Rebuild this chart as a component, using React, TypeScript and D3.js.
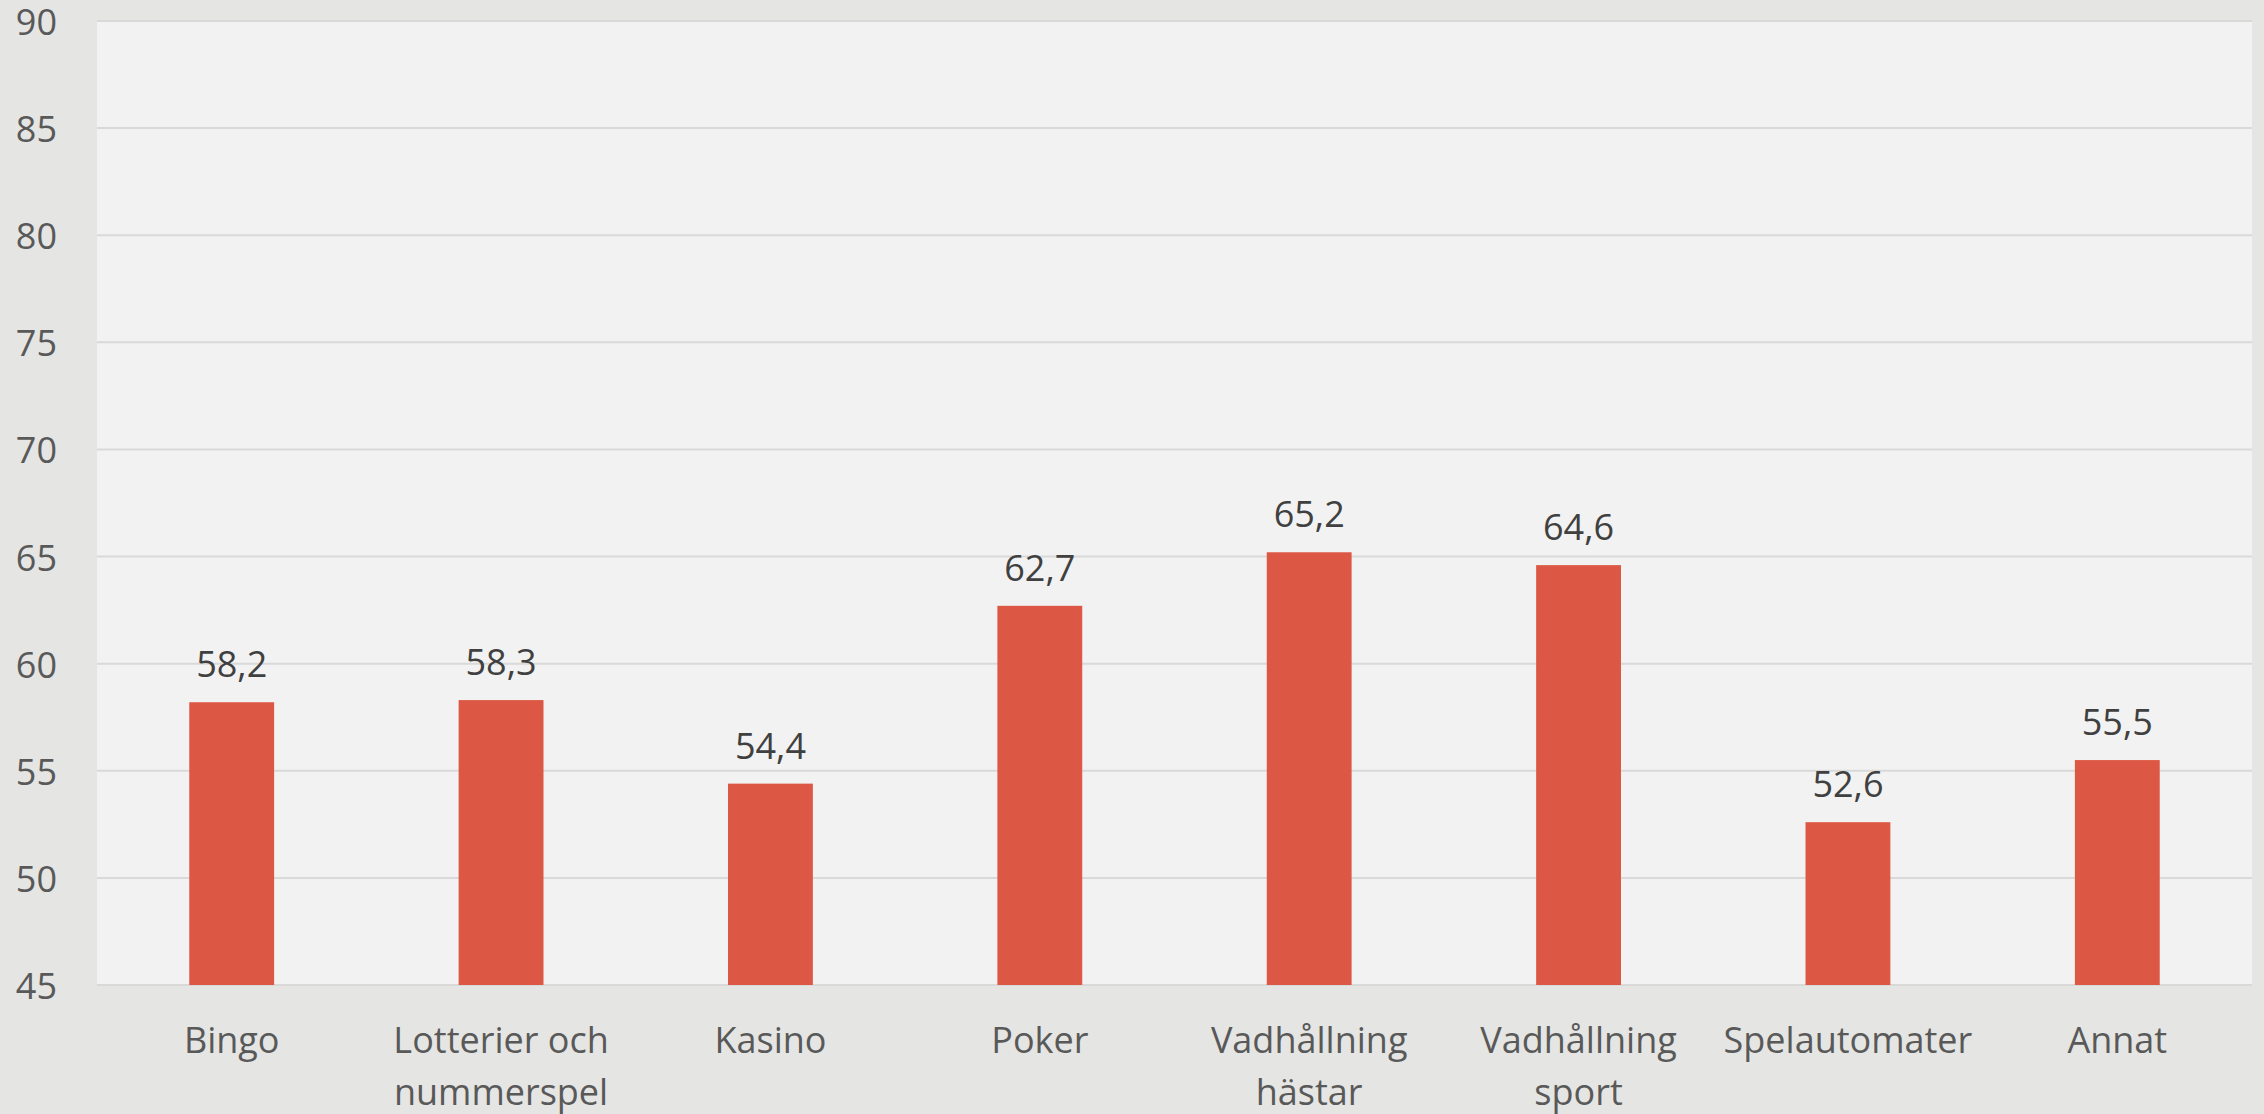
import React from "react";
import * as d3 from "d3";

const categories: string[][] = [
  ["Bingo"],
  ["Lotterier och", "nummerspel"],
  ["Kasino"],
  ["Poker"],
  ["Vadhållning", "hästar"],
  ["Vadhållning", "sport"],
  ["Spelautomater"],
  ["Annat"],
];
const values: number[] = [58.2, 58.3, 54.4, 62.7, 65.2, 64.6, 52.6, 55.5];
const yTicks: number[] = [45, 50, 55, 60, 65, 70, 75, 80, 85, 90];

const W = 2264;
const H = 1114;
const left = 97;
const right = 2252;
const top = 21;
const bottom = 985;
const font = "'Open Sans', sans-serif";

export default function App() {
  const x = d3
    .scaleBand<number>()
    .domain(values.map((_, i) => i))
    .range([left, right])
    .paddingInner(0.685)
    .paddingOuter(0.3425);
  const y = d3.scaleLinear().domain([45, 90]).range([bottom, top]);
  const fmt = (v: number) => d3.format(".1f")(v).replace(".", ",");

  return (
    <svg
      width={W}
      height={H}
      style={{ position: "absolute", left: 0, top: 0, display: "block" }}
      fontFamily={font}
    >
      <rect x={0} y={0} width={W} height={H} fill="#e5e5e3" />
      <rect x={left} y={top} width={right - left} height={bottom - top} fill="#f2f2f2" />
      {yTicks.map((t) => (
        <g key={t}>
          <line
            x1={left}
            x2={right}
            y1={y(t)}
            y2={y(t)}
            stroke="#d9d9d9"
            strokeWidth={2}
          />
          <text
            x={57}
            y={y(t) + 14}
            textAnchor="end"
            fontSize={36}
            fill="#595959"
          >
            {t}
          </text>
        </g>
      ))}
      {values.map((v, i) => {
        const bx = x(i) as number;
        const bw = x.bandwidth();
        const cx = bx + bw / 2;
        return (
          <g key={i}>
            <rect x={bx} y={y(v)} width={bw} height={y(45) - y(v)} fill="#dc5844" />
            <text
              x={cx}
              y={y(v) - 25}
              textAnchor="middle"
              fontSize={36}
              fill="#404040"
            >
              {fmt(v)}
            </text>
            {categories[i].map((line, j) => (
              <text
                key={j}
                x={cx}
                y={1053 + j * 52}
                textAnchor="middle"
                fontSize={36}
                fill="#595959"
              >
                {line}
              </text>
            ))}
          </g>
        );
      })}
    </svg>
  );
}
